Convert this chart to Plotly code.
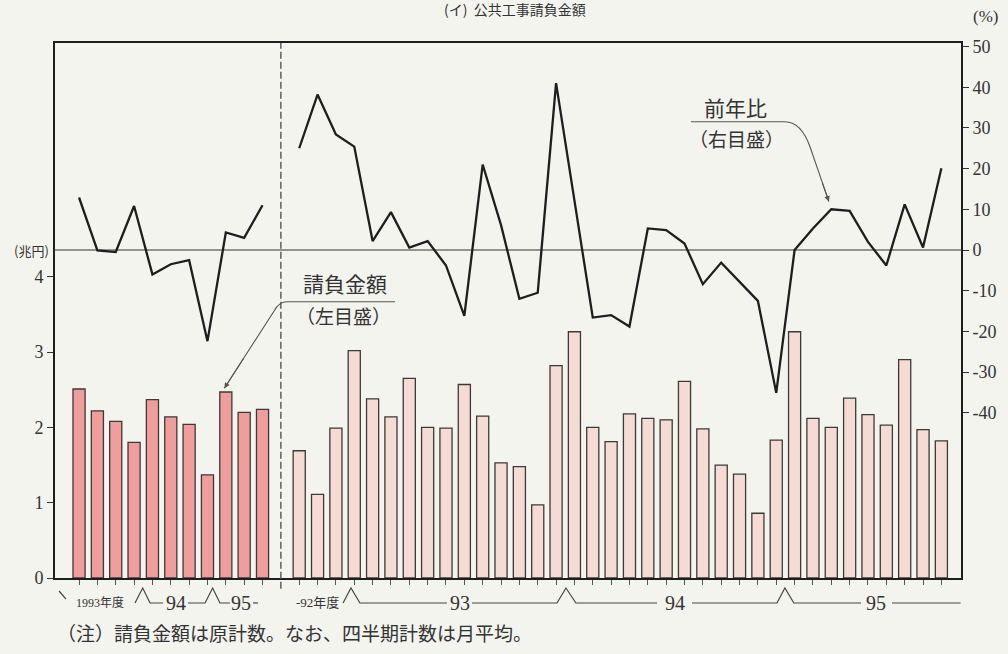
import plotly.graph_objects as go

# ---------------- data ----------------
# quarterly (fiscal 1993 Q1 .. fiscal 1995 Q3), monthly average, trillion yen
q_labels = ["93/4-6", "93/7-9", "93/10-12", "94/1-3",
            "94/4-6", "94/7-9", "94/10-12", "95/1-3",
            "95/4-6", "95/7-9", "95/10-12"]
q_amount = [2.51, 2.22, 2.08, 1.80, 2.37, 2.14, 2.04, 1.37, 2.47, 2.20, 2.24]
q_yoy = [12.9, -0.1, -0.5, 10.8, -6.0, -3.5, -2.5, -22.4, 4.3, 3.0, 11.0]

# monthly (Jan 1993 .. Dec 1995)
m_labels = ["1993-%02d" % m for m in range(1, 13)] + \
           ["1994-%02d" % m for m in range(1, 13)] + \
           ["1995-%02d" % m for m in range(1, 13)]
m_amount = [1.69, 1.11, 1.99, 3.02, 2.38, 2.14, 2.65, 2.00, 1.99, 2.57, 2.15, 1.53,
            1.48, 0.97, 2.82, 3.27, 2.00, 1.81, 2.18, 2.12, 2.10, 2.61, 1.98, 1.50,
            1.38, 0.86, 1.83, 3.27, 2.12, 2.00, 2.39, 2.17, 2.03, 2.90, 1.97, 1.82]
m_yoy = [25.0, 38.2, 28.4, 25.4, 2.2, 9.3, 0.6, 2.2, -3.8, -16.2, 21.0, 6.1,
         -12.0, -10.5, 41.0, 12.5, -16.6, -16.0, -18.8, 5.3, 4.9, 1.6, -8.4, -3.1,
         -7.8, -12.5, -35.1, 0.0, 5.3, 10.0, 9.6, 2.0, -3.8, 11.2, 0.6, 20.1]

left_ticks = [0, 1, 2, 3, 4]
right_ticks = [50, 40, 30, 20, 10, 0, -10, -20, -30, -40]
right_ticktext = [str(v) for v in right_ticks]

# slot positions: quarterly block, one empty slot (divider), monthly block
q_x = list(range(len(q_amount)))
div_x = len(q_amount)
m_x = [div_x + 1 + i for i in range(len(m_amount))]

BG = "#f4f4ef"
INK = "#1e1e1e"
TXT = "#333333"
SERIF = "Liberation Serif, Noto Sans CJK JP"
CJK = "Noto Sans CJK JP"

fig = go.Figure()

fig.add_trace(go.Bar(x=q_x, y=q_amount, width=0.66, customdata=q_labels,
                     marker=dict(color="#ef9e9b", line=dict(color="#3a3a3a", width=1.3)),
                     yaxis="y"))
fig.add_trace(go.Bar(x=m_x, y=m_amount, width=0.66, customdata=m_labels,
                     marker=dict(color="#f6dbd4", line=dict(color="#3a3a3a", width=1.3)),
                     yaxis="y"))
fig.add_trace(go.Scatter(x=q_x, y=q_yoy, mode="lines",
                         line=dict(color=INK, width=2.3), yaxis="y2"))
fig.add_trace(go.Scatter(x=m_x, y=m_yoy, mode="lines",
                         line=dict(color=INK, width=2.3), yaxis="y2"))

shapes = []
# zero line of right scale
shapes.append(dict(type="line", xref="paper", x0=0, x1=1, yref="y2", y0=0, y1=0,
                   line=dict(color="#333", width=1.2), layer="below"))
# dashed divider
shapes.append(dict(type="line", xref="x", x0=div_x, x1=div_x, yref="paper", y0=-0.02, y1=1,
                   line=dict(color="#555", width=1.4, dash="7px,3px")))

# leader lines
shapes.append(dict(type="path", xref="x", yref="y",
                   path="M 17.22,3.669 L 11.34,3.669 Q 10.90,3.669 10.63,3.546 L 7.92,2.52",
                   line=dict(color="#555", width=1.1)))
shapes.append(dict(type="path", xref="x", yref="y2",
                   path="M 33.35,31.52 L 38.47,31.52 Q 39.35,31.52 39.84,25.38 L 40.87,11.9",
                   line=dict(color="#555", width=1.1)))

# fiscal-year markers under the axis
yb = -0.0467
yp = -0.0187
lc = dict(color="#444", width=1.2)
shapes.append(dict(type="line", xref="x", yref="paper", x0=-1.09, y0=-0.0243, x1=-0.71, y1=-0.0393, line=lc))
for p in [
    f"M 3.05,{yb} L 3.47,{yp} L 3.87,{yb} L 4.58,{yb}",
    f"M 5.94,{yb} L 6.87,{yb} L 7.28,{yp} L 7.68,{yb} L 8.23,{yb}",
    f"M 9.48,{yb} L 9.75,{yb}",
    f"M 14.39,{yb} L 14.82,{yp} L 15.31,{yb} L 20.05,{yb}",
    f"M 21.42,{yb} L 26.05,{yb} L 26.54,{yp} L 27.08,{yb} L 31.50,{yb}",
    f"M 33.41,{yb} L 38.04,{yb} L 38.47,{yp} L 38.96,{yb} L 42.62,{yb}",
    f"M 44.31,{yb} L 48.05,{yb}",
]:
    shapes.append(dict(type="path", xref="x", yref="paper", path=p, line=lc))

ann = []
def txt(text, x, y, xref="x", yref="y", size=20, family=CJK, xanchor="center", yanchor="middle"):
    ann.append(dict(text=text, x=x, y=y, xref=xref, yref=yref, showarrow=False,
                    xanchor=xanchor, yanchor=yanchor,
                    font=dict(size=size, family=family, color=TXT)))

txt("請負金額", 14.5, 3.92, size=21)
txt("（左目盛）", 14.4, 3.49, size=19)
txt("前年比", 35.8, 35.2, yref="y2", size=21)
txt("（右目盛）", 35.85, 27.4, yref="y2", size=19)

# arrow heads
ann.append(dict(x=7.92, y=2.52, xref="x", yref="y", text="", showarrow=True,
                arrowhead=2, arrowsize=1, arrowwidth=1.1, arrowcolor="#555",
                ax=20, ay=-31, standoff=0))
ann.append(dict(x=40.87, y=11.9, xref="x", yref="y2", text="", showarrow=True,
                arrowhead=2, arrowsize=1, arrowwidth=1.1, arrowcolor="#555",
                ax=-7, ay=-20, standoff=0))

# axis unit labels
txt("(兆円)", -0.0254, 0.613, xref="paper", yref="paper", size=13)
txt("(%)", 1.0265, 1.0486, xref="paper", yref="paper", size=17, family=SERIF)

# x labels
txt("1993年度", 1.14, yb, yref="paper", size=12, family=SERIF)
txt("94", 5.29, yb, yref="paper", size=20, family=SERIF)
txt("95", 8.83, yb, yref="paper", size=20, family=SERIF)
txt("-92年度", 13.02, yb, yref="paper", size=13, family=SERIF)
txt("93", 20.76, yb, yref="paper", size=20, family=SERIF)
txt("94", 32.48, yb, yref="paper", size=20, family=SERIF)
txt("95", 43.43, yb, yref="paper", size=20, family=SERIF)

# note
txt("（注）請負金額は原計数。なお、四半期計数は月平均。", 0.0, -0.1028,
    xref="paper", yref="paper", size=19, xanchor="left")

# title (at the very top edge of the page)
ann.append(dict(text="(イ)  公共工事請負金額", x=0.508, y=1, xref="paper", yref="paper",
                yshift=34, xanchor="center", yanchor="middle", showarrow=False,
                font=dict(size=14, family=CJK, color=TXT)))

fig.update_layout(
    width=1008, height=654,
    margin=dict(l=55, r=47, t=43, b=76, autoexpand=False),
    paper_bgcolor=BG, plot_bgcolor=BG,
    showlegend=False,
    shapes=shapes, annotations=ann,
    xaxis=dict(range=[-1.31, 48.07], tickvals=q_x + m_x, ticks="outside", ticklen=5,
               tickwidth=1, tickcolor="#555", showticklabels=False,
               showline=True, linecolor=INK, linewidth=2, mirror=True,
               showgrid=False, zeroline=False, automargin=False),
    yaxis=dict(range=[0, 7.105], tickvals=left_ticks, ticks="outside", ticklen=6,
               tickcolor="#333", showline=True, linecolor=INK, linewidth=2,
               showgrid=False, zeroline=False, automargin=False,
               tickfont=dict(family=SERIF, size=18, color=TXT)),
    yaxis2=dict(range=[-80.59, 50.86], overlaying="y", side="right",
                tickvals=right_ticks, ticktext=right_ticktext, ticks="outside",
                ticklen=6, tickcolor="#333", showline=True, linecolor=INK, linewidth=2,
                showgrid=False, zeroline=False, automargin=False,
                tickfont=dict(family=SERIF, size=18, color=TXT)),
)

fig.write_html("out.html", config={"displayModeBar": False},
               post_script="document.body.style.margin='0';document.body.style.overflow='hidden';")
